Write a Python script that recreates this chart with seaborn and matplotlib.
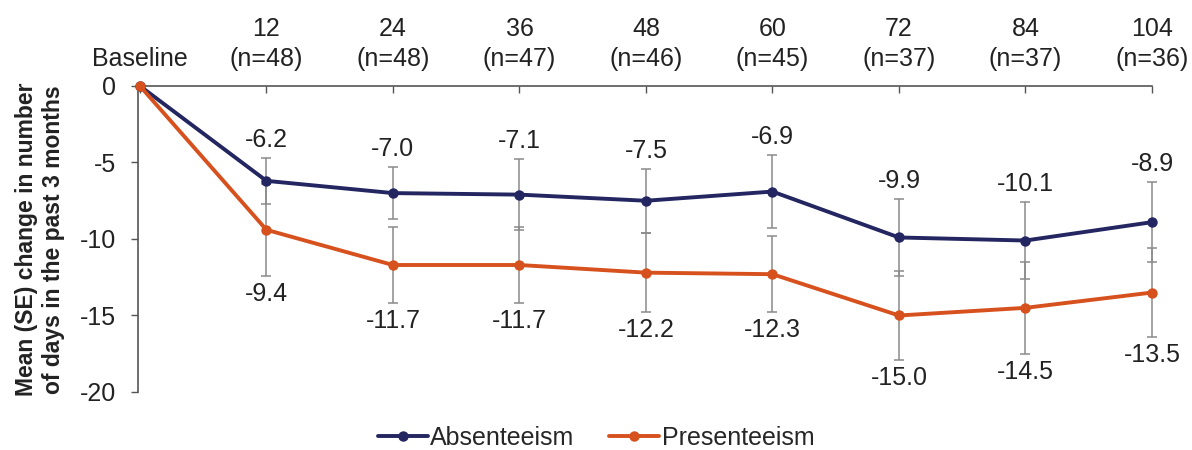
import matplotlib
matplotlib.use("Agg")
import matplotlib.pyplot as plt
import seaborn as sns
import pandas as pd
import numpy as np

sns.set_theme(style="white")
plt.rcParams["font.family"] = ["Liberation Sans", "DejaVu Sans"]

# Visit weeks and number of patients
weeks = ["Baseline", "12", "24", "36", "48", "60", "72", "84", "104"]
n_patients = [None, 48, 48, 47, 46, 45, 37, 37, 36]

# Mean change (days in past 3 months) and standard errors
absenteeism = [0.0, -6.2, -7.0, -7.1, -7.5, -6.9, -9.9, -10.1, -8.9]
absenteeism_se = [0.0, 1.5, 1.7, 2.3, 2.1, 2.4, 2.5, 2.5, 2.6]
presenteeism = [0.0, -9.4, -11.7, -11.7, -12.2, -12.3, -15.0, -14.5, -13.5]
presenteeism_se = [0.0, 3.0, 2.5, 2.5, 2.6, 2.5, 2.9, 3.0, 2.9]

series_names = ["Absenteeism", "Presenteeism"]
colors = {"Absenteeism": "#232660", "Presenteeism": "#D6511E"}
TXT = "#222222"
FS = 18

pos = np.arange(len(weeks))
df = pd.concat([
    pd.DataFrame({"pos": pos, "value": absenteeism, "se": absenteeism_se,
                  "series": "Absenteeism"}),
    pd.DataFrame({"pos": pos, "value": presenteeism, "se": presenteeism_se,
                  "series": "Presenteeism"}),
], ignore_index=True)

fig = plt.figure(figsize=(11.92, 4.5), dpi=100)
ax = fig.add_axes([0.1158, 0.1289, 0.8506, 0.68])

# SE whiskers (baseline has none)
for name in series_names:
    d = df[(df.series == name) & (df.pos > 0)]
    eb = ax.errorbar(d.pos, d.value, yerr=d.se, fmt="none", ecolor="#8a8a8a",
                     elinewidth=1.1, capsize=3.5, capthick=1.1, zorder=1)
    for art in eb.lines[1] + eb.lines[2]:
        art.set_clip_on(False)

sns.lineplot(data=df, x="pos", y="value", hue="series", hue_order=series_names,
             palette=colors, marker="o", markersize=7.5, markeredgewidth=0,
             linewidth=2.8, ax=ax, zorder=3, legend=True)
for ln in ax.lines:
    ln.set_clip_on(False)

# Value labels: above the whisker for absenteeism, below for presenteeism
for _, r in df[df.pos > 0].iterrows():
    if r.series == "Absenteeism":
        ax.annotate(f"{r.value:.1f}", (r.pos, r.value + r.se), xytext=(0, 13),
                    textcoords="offset points", ha="center", va="center",
                    fontsize=FS, color=TXT)
    else:
        ax.annotate(f"{r.value:.1f}", (r.pos, r.value - r.se), xytext=(0, -13),
                    textcoords="offset points", ha="center", va="center",
                    fontsize=FS, color=TXT)

ax.set_xlim(-0.015, 8.0)
ax.set_ylim(-20, 0)
ax.set_yticks([0, -5, -10, -15, -20])
ax.set_yticklabels(["0", "-5", "-10", "-15", "-20"], fontsize=FS, color=TXT)

tick_labels = ["Baseline"] + [f"{w}\n(n={n})" for w, n in zip(weeks[1:], n_patients[1:])]
ax.xaxis.tick_top()
ax.set_xticks(pos)
ax.set_xticklabels(tick_labels, fontsize=FS, color=TXT, linespacing=1.3)
ax.tick_params(axis="x", direction="in", length=5, width=1, color="#555555", pad=11)
ax.tick_params(axis="y", direction="out", length=5, width=1, color="#555555", pad=11, left=True)
ax.set_xlabel("")
ax.set_ylabel("")
fig.text(40 / 1192, 0.468, "Mean (SE) change in number\nof days in the past 3 months",
         rotation=90, ha="center", va="center", fontsize=16.5, fontweight="bold",
         color=TXT, linespacing=1.25)

for side in ["right", "bottom"]:
    ax.spines[side].set_visible(False)
for side in ["left", "top"]:
    ax.spines[side].set_color("#555555")
    ax.spines[side].set_linewidth(1.2)

handles, labels = ax.get_legend_handles_labels()
ax.legend_.remove()
fig.legend(handles, labels, loc="center", bbox_to_anchor=(0.5, 0.027),
           ncol=2, frameon=False, fontsize=FS, handlelength=2.0,
           columnspacing=1.4, handletextpad=0.1, borderpad=0)

fig.savefig("out.png", dpi=100)
